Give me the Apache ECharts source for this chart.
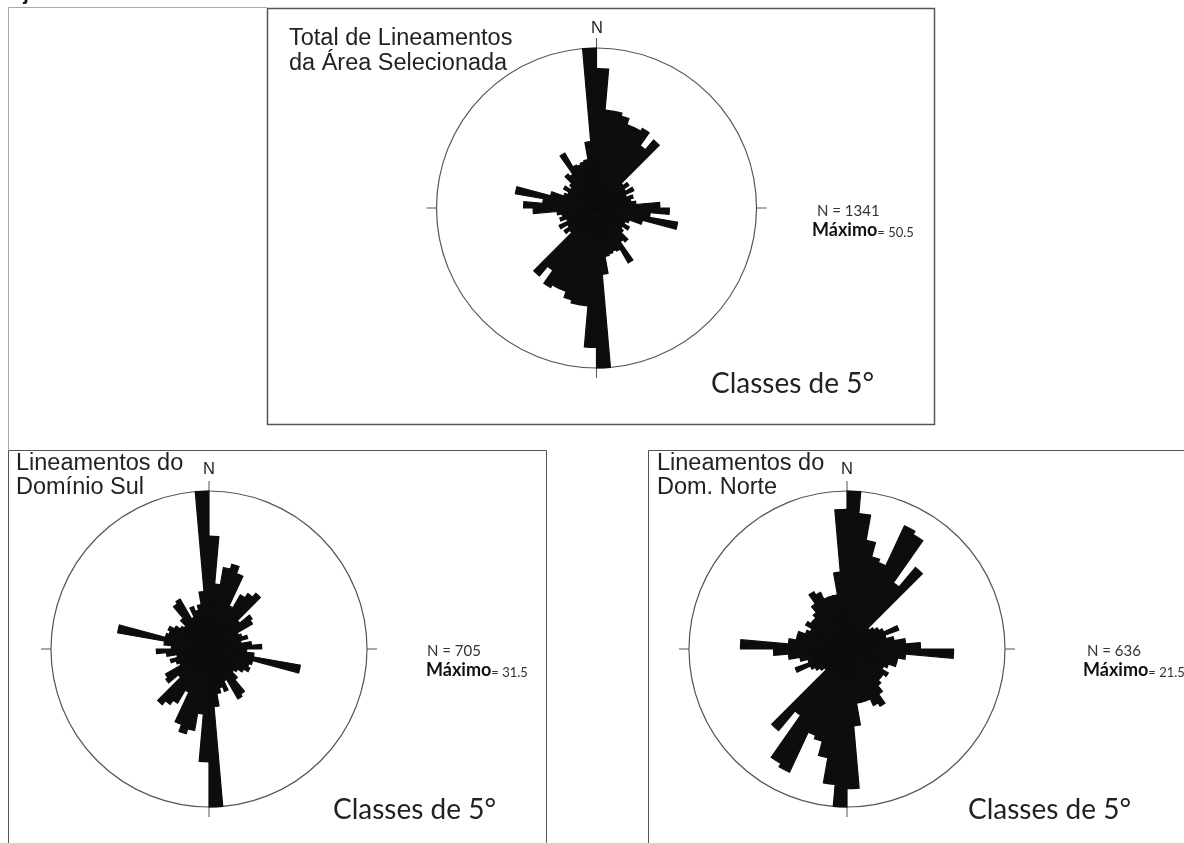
<!DOCTYPE html>
<html>
<head>
<meta charset="utf-8">
<script src="https://cdn.jsdelivr.net/npm/echarts@6/dist/echarts.min.js"></script>
<style>
html, body { margin: 0; padding: 0; background: #fff; }
#chart { width: 1184px; height: 843px; }
</style>
</head>
<body>
<div id="chart"></div>
<script>
// classes de 5 graus de 0 a 180; a outra metade da roseta e o espelho (dados axiais)
const binStart = [0, 5, 10, 15, 20, 25, 30, 35, 40, 45, 50, 55, 60, 65, 70, 75, 80, 85,
  90, 95, 100, 105, 110, 115, 120, 125, 130, 135, 140, 145, 150, 155, 160, 165, 170, 175];

// comprimento das petalas (mesma unidade do "Máximo")
const totalArea = [44, 31, 31, 30, 28, 28, 29, 24, 28, 11, 12.5, 10.5, 13, 10, 12, 11, 12.5, 20,
  23, 17, 26, 15, 11, 10, 12, 10, 11, 14, 13, 20, 15, 14.5, 15, 15.5, 21, 50.5];
const dominioSul = [22.5, 13, 16.5, 17.5, 16, 9.5, 12.5, 13.5, 14.5, 8, 10.5, 10, 6.5, 7, 8, 6.5, 8.5, 10.5,
  7.5, 9, 18.5, 9, 8.5, 9, 8, 7, 6.5, 8, 11, 11.5, 7, 9, 8, 9, 11.5, 31.5];
const domNorte = [21.5, 18.5, 15, 13, 12.5, 18.5, 18, 11, 14.5, 4, 4.5, 5, 5.5, 7.5, 5.5, 6.5, 8, 10,
  14.5, 8, 7, 7, 6, 5.5, 6.5, 6, 6, 6.5, 7.5, 9, 8.5, 7.5, 7.5, 7.5, 10.5, 19];

const maximos = [50.5, 31.5, 21.5];
const totais = [1341, 705, 636];

const categories = binStart.concat(binStart.map(d => d + 180)).map(d => d + '°');
const mirror = arr => arr.concat(arr);

const roses = [
  { data: totalArea, center: [596.5, 208], radius: 160 },
  { data: dominioSul, center: [209, 649], radius: 158 },
  { data: domNorte, center: [847, 649], radius: 158 },
];

const arialFont = '"Liberation Sans", Arial, sans-serif';
const calibriFont = 'Lato, "Open Sans", sans-serif';

function txt(x, y, text, size, opts) {
  return {
    type: 'text',
    x: x,
    y: y,
    silent: true,
    style: Object.assign({
      text: text,
      fontSize: size,
      fontFamily: arialFont,
      fill: '#222',
      align: 'left',
      verticalAlign: 'middle',
    }, opts || {}),
  };
}

function rect(x, y, w, h, color, lw) {
  return {
    type: 'rect',
    silent: true,
    shape: { x: x, y: y, width: w, height: h },
    style: { fill: 'none', stroke: color, lineWidth: lw },
  };
}

function maxLabel(x, y, i) {
  return {
    type: 'text',
    x: x,
    y: y,
    silent: true,
    style: {
      text: '{a|Máximo}{b|= ' + maximos[i] + '}',
      verticalAlign: 'middle',
      rich: {
        a: { fontFamily: calibriFont, fontSize: 18, fontWeight: 'bold', fill: '#111', verticalAlign: 'bottom' },
        b: { fontFamily: calibriFont, fontSize: 13, fill: '#333', verticalAlign: 'bottom' },
      },
    },
  };
}

const graphics = [
  // moldura externa
  { type: 'line', silent: true, shape: { x1: 8, y1: 7.5, x2: 267, y2: 7.5 }, style: { stroke: '#aaa', lineWidth: 1 } },
  { type: 'line', silent: true, shape: { x1: 8.5, y1: 7.5, x2: 8.5, y2: 450 }, style: { stroke: '#aaa', lineWidth: 1 } },
  rect(267.5, 8.5, 667, 416, '#555', 1.5),
  rect(8.5, 450.5, 538, 420, '#555', 1),
  rect(648.5, 450.5, 560, 420, '#555', 1),

  // legenda cortada no topo da figura
  txt(0, -6, 'adjacente à área de estudo', 20, { fill: '#111', fontWeight: 'bold' }),

  // quadro superior
  txt(289, 38.5, 'Total de Lineamentos', 23.5),
  txt(289, 63.5, 'da Área Selecionada', 23.5),
  txt(597, 28, 'N', 16.5, { align: 'center' }),
  txt(817, 211.5, 'N = ' + totais[0], 15, { fontFamily: calibriFont, fill: '#333' }),
  maxLabel(812, 230.5, 0),
  txt(711, 384, 'Classes de 5°', 28, { fontFamily: calibriFont }),

  // quadro inferior esquerdo
  txt(16, 463.5, 'Lineamentos do', 23.5),
  txt(16, 488, 'Domínio Sul', 23.5),
  txt(209, 469, 'N', 16.5, { align: 'center' }),
  txt(427, 651, 'N = ' + totais[1], 15, { fontFamily: calibriFont, fill: '#333' }),
  maxLabel(426, 670, 1),
  txt(333, 810, 'Classes de 5°', 28, { fontFamily: calibriFont }),

  // quadro inferior direito
  txt(657, 463.5, 'Lineamentos do', 23.5),
  txt(657, 488, 'Dom. Norte', 23.5),
  txt(847, 469, 'N', 16.5, { align: 'center' }),
  txt(1087, 651, 'N = ' + totais[2], 15, { fontFamily: calibriFont, fill: '#333' }),
  maxLabel(1083, 670, 2),
  txt(968, 810, 'Classes de 5°', 28, { fontFamily: calibriFont }),
];

const option = {
  animation: false,
  backgroundColor: '#fff',
  polar: roses.map(r => ({ center: r.center, radius: r.radius })),
  angleAxis: roses.map((r, i) => ({
    polarIndex: i,
    type: 'category',
    data: categories,
    startAngle: 90,
    clockwise: true,
    boundaryGap: true,
    axisLine: { lineStyle: { color: '#555', width: 1.2 } },
    axisTick: {
      show: true,
      interval: (idx) => idx % 18 === 0,
      length: 10,
      lineStyle: { color: '#555', width: 1 },
    },
    axisLabel: { show: false },
    splitLine: { show: false },
  })),
  radiusAxis: roses.map((r, i) => ({
    polarIndex: i,
    type: 'value',
    min: 0,
    max: maximos[i],
    axisLine: { show: false },
    axisTick: { show: false },
    axisLabel: { show: false },
    splitLine: { show: false },
  })),
  series: roses.map((r, i) => ({
    type: 'bar',
    coordinateSystem: 'polar',
    polarIndex: i,
    data: mirror(r.data),
    barCategoryGap: '0%',
    silent: true,
    itemStyle: { color: '#0d0d0d', borderColor: '#0d0d0d', borderWidth: 1.2, borderJoin: 'miter' },
  })),
  graphic: graphics,
};

const myChart = echarts.init(document.getElementById('chart'));
myChart.setOption(option);
</script>
</body>
</html>
